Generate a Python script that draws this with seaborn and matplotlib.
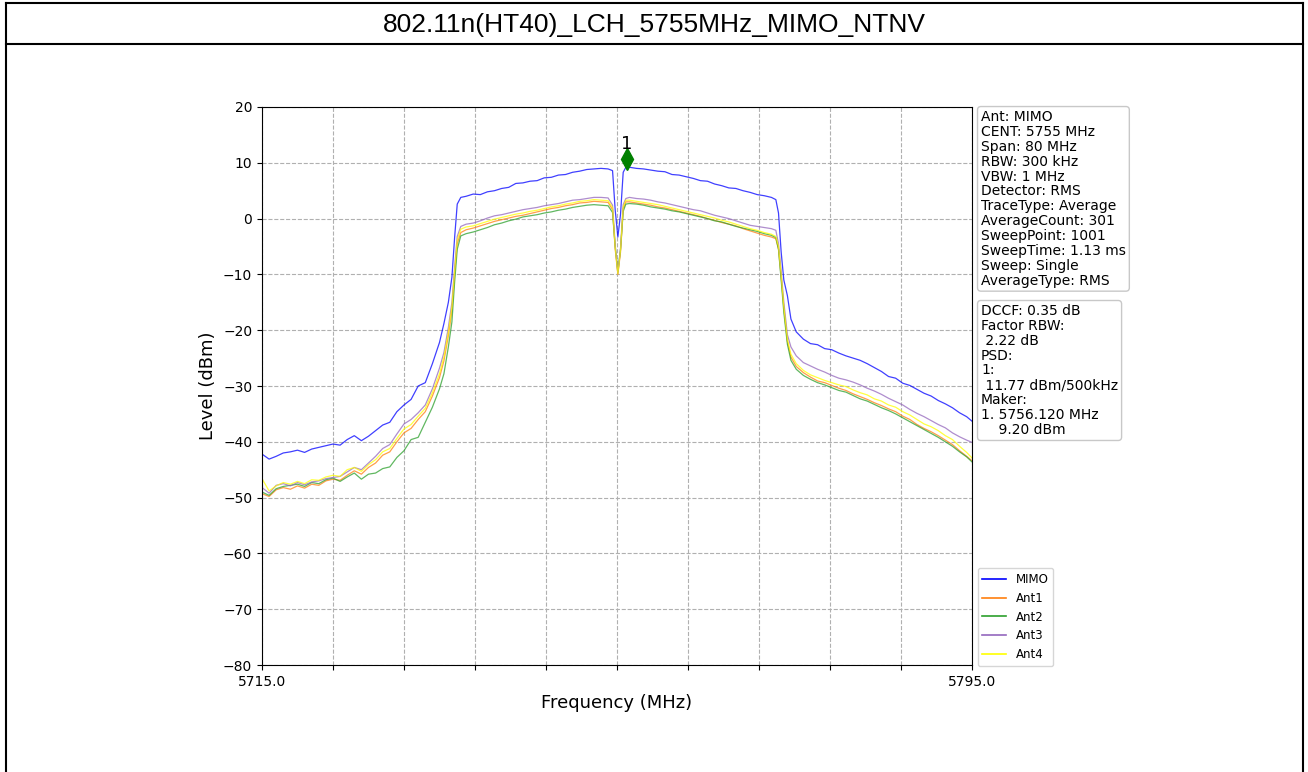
import matplotlib
matplotlib.use("Agg")
import matplotlib.pyplot as plt
from matplotlib.lines import Line2D
import seaborn as sns
import pandas as pd

# frequency points (MHz), shared by all traces
freq = [
    5715.0, 5715.8, 5716.6, 5717.4, 5718.2, 5719.0, 5719.8, 5720.6, 5721.4, 5722.2,
    5723.0, 5723.8, 5724.6, 5725.4, 5726.2, 5727.0, 5727.8, 5728.6, 5729.4, 5730.2,
    5731.0, 5731.8, 5732.6, 5733.4, 5734.2, 5735.0,
    5735.5, 5736.0, 5736.4, 5736.7, 5737.0, 5737.4, 5738.0,
    5738.8, 5739.6, 5740.4, 5741.2, 5742.0, 5742.8, 5743.6, 5744.4, 5745.2, 5746.0,
    5746.8, 5747.6, 5748.4, 5749.2, 5750.0, 5750.8, 5751.6, 5752.4, 5753.2, 5754.0,
    5754.5, 5754.8, 5755.1, 5755.4, 5755.7, 5756.0,
    5756.4, 5757.2, 5758.0, 5758.8, 5759.6, 5760.4, 5761.2, 5762.0, 5762.8, 5763.6,
    5764.4, 5765.2, 5766.0, 5766.8, 5767.6, 5768.4, 5769.2, 5770.0, 5770.8, 5771.6, 5772.4,
    5772.9, 5773.2, 5773.5, 5773.8, 5774.2, 5774.6, 5775.2,
    5776.0, 5776.8, 5777.6, 5778.4, 5779.2, 5780.0, 5780.8, 5781.6, 5782.4, 5783.2,
    5784.0, 5784.8, 5785.6, 5786.4, 5787.2, 5788.0, 5788.8, 5789.6, 5790.4, 5791.2,
    5792.0, 5792.8, 5793.6, 5794.4, 5795.0,
]

mimo = [
    -42.2, -43.1, -42.6, -42.0, -41.8, -41.5, -41.9, -41.3, -41.0, -40.7,
    -40.4, -40.6, -39.6, -38.9, -39.8, -39.0, -38.0, -37.0, -36.5, -34.6,
    -33.4, -32.4, -30.0, -29.4, -26.0, -22.2,
    -18.8, -15.0, -10.5, -3.5, 2.6, 3.8, 4.0,
    4.4, 4.3, 4.8, 5.0, 5.4, 5.6, 6.3, 6.4, 6.7, 6.8,
    7.3, 7.4, 7.8, 7.9, 8.3, 8.5, 8.8, 8.9, 9.0, 8.9,
    8.6, 1.5, -3.3, 0.8, 8.3, 9.2,
    9.2, 9.0, 8.9, 8.7, 8.5, 8.4, 7.9, 7.8, 7.5, 7.2,
    6.8, 6.7, 6.2, 5.9, 5.5, 5.4, 5.0, 4.7, 4.3, 4.1, 3.8,
    3.4, 1.0, -6.0, -11.0, -13.8, -18.0, -20.3,
    -21.6, -22.4, -22.6, -23.3, -23.5, -24.1, -24.6, -25.0, -25.4, -26.0,
    -26.7, -27.4, -28.3, -28.6, -29.5, -29.9, -30.6, -31.3, -31.8, -32.6,
    -33.2, -33.9, -34.8, -35.5, -36.3,
]

ant1 = [
    -49.3, -49.8, -48.6, -48.2, -48.5, -47.9, -48.3, -47.6, -47.8, -47.0,
    -46.7, -46.9, -46.0, -45.2, -45.8, -44.6, -43.8, -42.4, -41.8, -40.0,
    -38.4, -37.6, -36.0, -34.6, -31.8, -28.5,
    -25.5, -21.0, -16.5, -10.0, -4.5, -2.5, -2.0,
    -1.7, -1.3, -0.9, -0.5, -0.2, 0.1, 0.4, 0.6, 0.9, 1.2,
    1.5, 1.8, 2.0, 2.3, 2.5, 2.8, 2.9, 3.1, 3.0, 2.9,
    1.6, -5.5, -10.0, -6.0, 1.8, 3.0,
    3.0, 2.8, 2.6, 2.4, 2.1, 1.9, 1.6, 1.3, 1.0, 0.7,
    0.4, 0.0, -0.3, -0.7, -1.0, -1.3, -1.8, -2.2, -2.6, -3.0, -3.3,
    -3.6, -5.5, -10.5, -16.0, -22.0, -24.8, -26.5,
    -27.6, -28.4, -29.1, -29.4, -29.9, -30.4, -30.8, -31.4, -31.9, -32.4,
    -33.0, -33.5, -34.1, -34.6, -35.4, -36.0, -36.9, -37.6, -38.2, -38.9,
    -39.7, -40.5, -41.6, -42.6, -43.4,
]

ant2 = [
    -49.0, -49.6, -48.4, -48.0, -47.8, -47.6, -48.0, -47.3, -47.5, -46.8,
    -46.5, -47.1, -46.3, -45.6, -46.7, -45.8, -45.6, -44.8, -44.5, -42.8,
    -41.6, -39.6, -39.2, -36.5, -33.8, -30.5,
    -27.8, -23.0, -18.5, -11.5, -5.5, -3.1, -2.7,
    -2.4, -2.0, -1.6, -1.1, -0.8, -0.4, -0.1, 0.3, 0.5, 0.7,
    1.0, 1.2, 1.5, 1.7, 2.0, 2.2, 2.4, 2.5, 2.4, 2.3,
    1.1, -5.0, -9.5, -5.5, 1.3, 2.6,
    2.7, 2.6, 2.4, 2.1, 1.9, 1.7, 1.4, 1.2, 0.9, 0.6,
    0.3, 0.0, -0.4, -0.6, -1.0, -1.4, -1.7, -2.0, -2.3, -2.7, -3.0,
    -3.4, -5.5, -11.0, -16.8, -22.5, -25.4, -27.0,
    -28.1, -28.8, -29.4, -29.8, -30.3, -30.8, -31.1, -31.7, -32.3, -32.7,
    -33.3, -33.9, -34.4, -35.0, -35.7, -36.4, -37.1, -37.8, -38.5, -39.2,
    -40.0, -40.8, -41.8, -42.7, -43.6,
]

ant3 = [
    -48.2, -49.2, -47.8, -47.5, -47.9, -47.3, -47.7, -47.2, -47.0, -46.6,
    -46.4, -46.2, -45.4, -44.6, -45.0, -43.8, -42.6, -41.2, -40.5, -38.6,
    -36.8, -36.0, -34.8, -33.4, -30.5, -26.8,
    -24.0, -19.5, -15.0, -8.8, -3.2, -1.4, -1.0,
    -0.8, -0.4, 0.1, 0.5, 0.7, 1.0, 1.3, 1.6, 1.8, 2.0,
    2.3, 2.5, 2.7, 3.0, 3.3, 3.4, 3.6, 3.8, 3.8, 3.7,
    2.4, -4.8, -9.8, -5.2, 2.5, 3.6,
    3.8, 3.6, 3.5, 3.3, 3.0, 2.8, 2.5, 2.2, 1.9, 1.6,
    1.4, 1.0, 0.6, 0.3, 0.0, -0.4, -0.8, -1.2, -1.4, -1.6, -1.8,
    -2.1, -4.5, -9.5, -15.0, -20.8, -23.0, -24.6,
    -25.8, -26.4, -27.0, -27.5, -28.1, -28.6, -28.9, -29.3, -29.8, -30.4,
    -30.9, -31.5, -32.2, -32.8, -33.4, -34.2, -34.9, -35.5, -36.2, -36.9,
    -37.5, -38.4, -39.1, -39.7, -40.1,
]

ant4 = [
    -46.6, -48.8, -47.9, -47.3, -47.6, -47.1, -47.5, -46.8, -46.9, -46.3,
    -46.0, -46.2, -45.0, -44.6, -45.3, -44.1, -43.2, -41.8, -41.2, -39.4,
    -37.7, -36.9, -35.4, -34.0, -31.2, -27.8,
    -24.8, -20.3, -15.8, -9.5, -3.8, -1.9, -1.5,
    -1.3, -0.9, -0.5, -0.1, 0.2, 0.5, 0.8, 1.0, 1.3, 1.5,
    1.8, 2.1, 2.3, 2.6, 2.8, 3.1, 3.2, 3.4, 3.3, 3.2,
    2.0, -5.2, -9.9, -5.6, 2.1, 3.3,
    3.3, 3.1, 2.9, 2.7, 2.5, 2.2, 1.9, 1.6, 1.3, 1.0,
    0.7, 0.4, 0.1, -0.3, -0.6, -1.0, -1.4, -1.8, -2.1, -2.5, -2.8,
    -3.2, -5.0, -10.0, -15.8, -21.6, -24.3, -26.0,
    -27.2, -28.0, -28.5, -29.0, -29.4, -29.8, -30.1, -30.7, -31.2, -31.6,
    -32.3, -32.7, -33.4, -33.8, -34.6, -35.2, -36.0, -36.8, -37.3, -38.0,
    -38.9, -39.6, -40.8, -41.9, -42.9,
]

traces = ["MIMO", "Ant1", "Ant2", "Ant3", "Ant4"]
colors = {"MIMO": "blue", "Ant1": "tab:orange", "Ant2": "tab:green",
          "Ant3": "tab:purple", "Ant4": "yellow"}

x_ticks = [5715, 5723, 5731, 5739, 5747, 5755, 5763, 5771, 5779, 5787, 5795]
x_labels = ["5715.0", "", "", "", "", "", "", "", "", "", "5795.0"]
y_ticks = [-80, -70, -60, -50, -40, -30, -20, -10, 0, 10, 20]

marker_freq = 5756.12
marker_level = 9.20

title = "802.11n(HT40)_LCH_5755MHz_MIMO_NTNV"
info_text = ("Ant: MIMO\nCENT: 5755 MHz\nSpan: 80 MHz\nRBW: 300 kHz\nVBW: 1 MHz\n"
             "Detector: RMS\nTraceType: Average\nAverageCount: 301\nSweepPoint: 1001\n"
             "SweepTime: 1.13 ms\nSweep: Single\nAverageType: RMS")
psd_text = ("DCCF: 0.35 dB\nFactor RBW:\n 2.22 dB\nPSD:\n1:\n 11.77 dBm/500kHz\n"
            "Maker:\n1. 5756.120 MHz\n    9.20 dBm")

# long table for seaborn
levels = {"MIMO": mimo, "Ant1": ant1, "Ant2": ant2, "Ant3": ant3, "Ant4": ant4}
rows = []
for name in traces:
    for f, v in zip(freq, levels[name]):
        rows.append((name, f, v))
df = pd.DataFrame(rows, columns=["Trace", "Frequency", "Level"])

fig = plt.figure(figsize=(13.08, 7.72), dpi=100)
ax = fig.add_axes([0.2003, 0.1386, 0.5428, 0.7228])

sns.lineplot(data=df, x="Frequency", y="Level", hue="Trace", hue_order=traces,
             palette=colors, linewidth=0.9, alpha=0.75, estimator=None,
             sort=False, legend=False, ax=ax)

# marker
ax.plot([marker_freq], [marker_level + 1.5], marker="d", color="green",
        markersize=11, linestyle="none")
ax.text(marker_freq, marker_level + 2.6, "1", ha="center", va="bottom", fontsize=13)

ax.set_xlim(5715, 5795)
ax.set_ylim(-80, 20)
ax.set_xticks(x_ticks)
ax.set_xticklabels(x_labels)
ax.set_yticks(y_ticks)
ax.tick_params(labelsize=10)
ax.grid(True, linestyle="--", color="#b0b0b0", linewidth=0.8)
ax.set_xlabel("Frequency (MHz)", fontsize=13)
ax.set_ylabel("Level (dBm)", fontsize=13)

box = dict(boxstyle="round,pad=0.25", facecolor="white", edgecolor="#c8c8c8")
ax.text(1.0127, 0.9946, info_text, transform=ax.transAxes, va="top", ha="left",
        fontsize=10, linespacing=1.08, bbox=box)
ax.text(1.0127, 0.6470, psd_text, transform=ax.transAxes, va="top", ha="left",
        fontsize=10, linespacing=1.08, bbox=box)

handles = [Line2D([0], [0], color=colors[n], linewidth=1.2) for n in traces]
ax.legend(handles, traces, loc="lower left", bbox_to_anchor=(1.008, -0.002),
          borderaxespad=0, fontsize=8.5)

# header frame and title
fig.add_artist(Line2D([0.0046, 0.9962], [0.9955, 0.9955], color="black", linewidth=1.5))
fig.add_artist(Line2D([0.0046, 0.9962], [0.943, 0.943], color="black", linewidth=1.5))
fig.add_artist(Line2D([0.0046, 0.0046], [0.0, 0.9955], color="black", linewidth=1.5))
fig.add_artist(Line2D([0.9962, 0.9962], [0.0, 0.9955], color="black", linewidth=1.5))
fig.text(0.5, 0.968, title, ha="center", va="center", fontsize=19,
         family=["Liberation Sans", "DejaVu Sans"])

fig.savefig("out.png", dpi=100)
